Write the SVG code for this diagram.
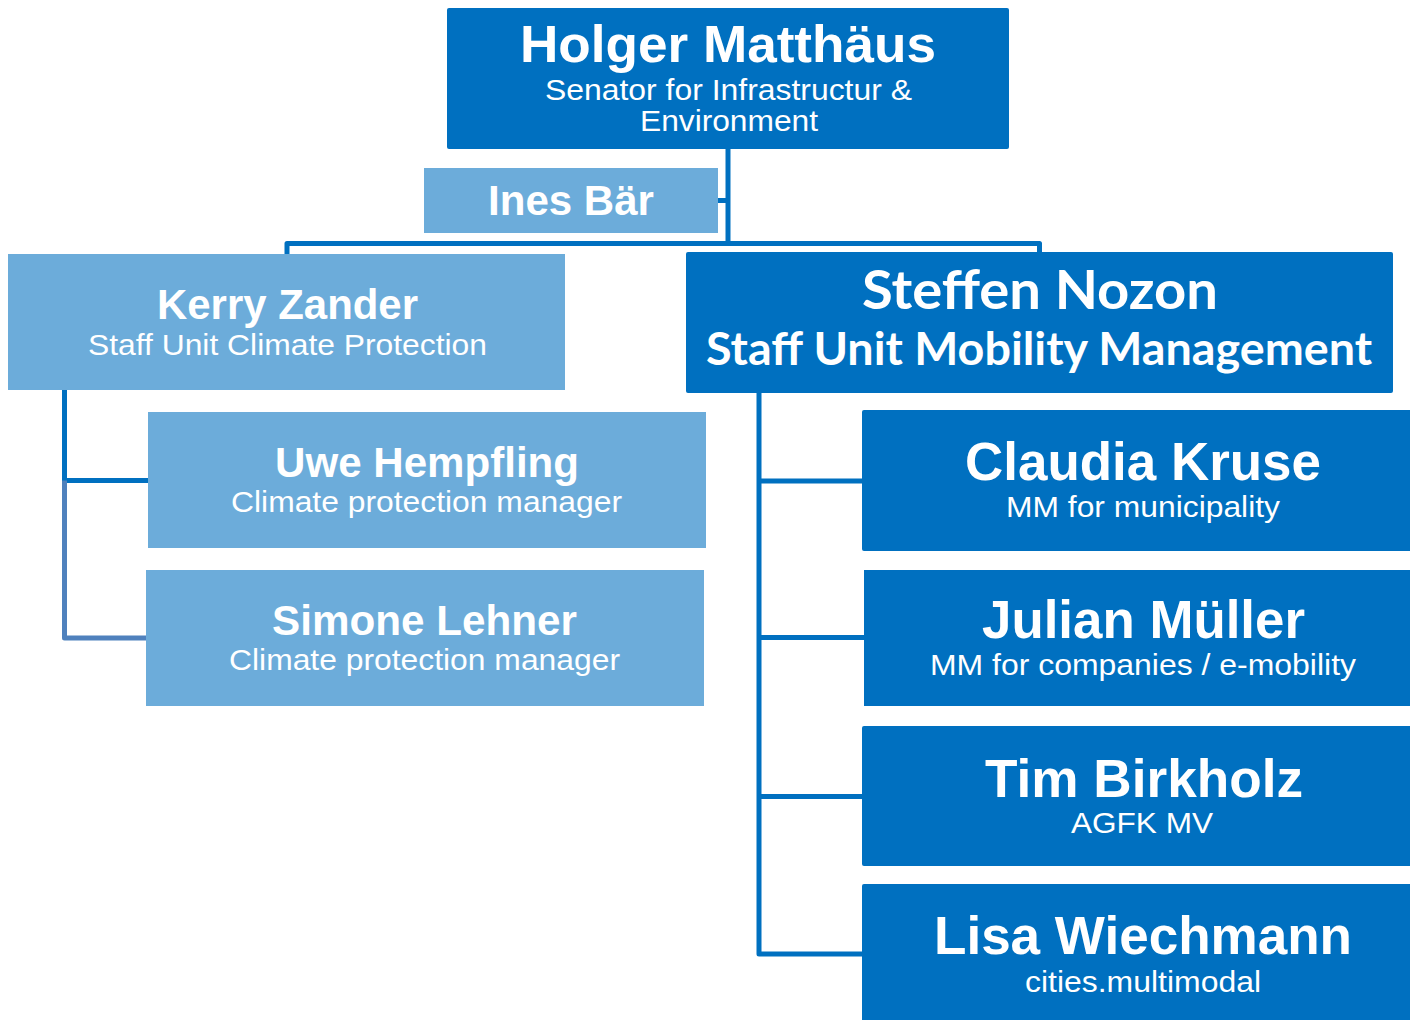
<svg xmlns="http://www.w3.org/2000/svg" width="1410" height="1020" viewBox="0 0 1410 1020">
<style>
.dark{fill:#0070C0}
.light{fill:#6CACDA}
.t{font-family:"Liberation Sans",Arial,sans-serif;fill:#ffffff;text-anchor:middle}
.b{font-weight:bold}
.cal{font-family:Lato,"Open Sans","Liberation Sans",sans-serif;font-weight:bold;fill:#ffffff;text-anchor:middle}
.c{fill:none;stroke:#0070C0;stroke-width:5;stroke-linejoin:round}
.c2{fill:none;stroke:#4F81BD;stroke-width:5;stroke-linejoin:round}
</style>
<rect width="1410" height="1020" fill="#ffffff"/>
<g id="connectors">
<path class="c" d="M728 149 V243.5"/>
<path class="c" d="M718 200.5 H728"/>
<path class="c" d="M287 254 V243.5 H1039.5 V252"/>
<path class="c" d="M64.5 390 V480.5 H148"/>
<path class="c2" d="M64.5 480.5 V638 H146"/>
<path class="c" d="M759 393 V954 H862"/>
<path class="c" d="M759 481 H862"/>
<path class="c" d="M759 637.5 H864"/>
<path class="c" d="M759 796.5 H862"/>
</g>
<g id="holger">
<rect class="dark" x="447" y="8" width="562" height="141" rx="2"/>
<text class="t b" x="728" y="62" font-size="52" textLength="416" lengthAdjust="spacingAndGlyphs">Holger Matthäus</text>
<text class="t" x="728.5" y="100" font-size="29" textLength="367" lengthAdjust="spacingAndGlyphs">Senator for Infrastructur &amp;</text>
<text class="t" x="729" y="131" font-size="29" textLength="178" lengthAdjust="spacingAndGlyphs">Environment</text>
</g>
<g id="ines">
<rect class="light" x="424" y="168" width="294" height="65"/>
<text class="t b" x="571" y="215" font-size="42" textLength="166" lengthAdjust="spacingAndGlyphs">Ines Bär</text>
</g>
<g id="kerry">
<rect class="light" x="8" y="254" width="557" height="136"/>
<text class="t b" x="287.5" y="319" font-size="42" textLength="261" lengthAdjust="spacingAndGlyphs">Kerry Zander</text>
<text class="t" x="287.5" y="355" font-size="30" textLength="399" lengthAdjust="spacingAndGlyphs">Staff Unit Climate Protection</text>
</g>
<g id="steffen">
<rect class="dark" x="686" y="252" width="707" height="141" rx="2"/>
<text class="cal" x="1040" y="309" font-size="54" textLength="356" lengthAdjust="spacingAndGlyphs">Steffen Nozon</text>
<text class="cal" x="1039" y="365" font-size="45" textLength="666" lengthAdjust="spacingAndGlyphs">Staff Unit Mobility Management</text>
</g>
<g id="uwe">
<rect class="light" x="148" y="412" width="558" height="136"/>
<text class="t b" x="427" y="477" font-size="42" textLength="304" lengthAdjust="spacingAndGlyphs">Uwe Hempfling</text>
<text class="t" x="426.5" y="512" font-size="30" textLength="391" lengthAdjust="spacingAndGlyphs">Climate protection manager</text>
</g>
<g id="simone">
<rect class="light" x="146" y="570" width="558" height="136"/>
<text class="t b" x="424.5" y="635" font-size="42" textLength="305" lengthAdjust="spacingAndGlyphs">Simone Lehner</text>
<text class="t" x="424.5" y="670" font-size="30" textLength="391" lengthAdjust="spacingAndGlyphs">Climate protection manager</text>
</g>
<g id="claudia">
<rect class="dark" x="862" y="410" width="550" height="141" rx="2"/>
<text class="t b" x="1143" y="480" font-size="53" textLength="356" lengthAdjust="spacingAndGlyphs">Claudia Kruse</text>
<text class="t" x="1143" y="517" font-size="29" textLength="274" lengthAdjust="spacingAndGlyphs">MM for municipality</text>
</g>
<g id="julian">
<rect class="dark" x="864" y="570" width="548" height="136"/>
<text class="t b" x="1143.5" y="638" font-size="53" textLength="323" lengthAdjust="spacingAndGlyphs">Julian Müller</text>
<text class="t" x="1143" y="675" font-size="29" textLength="426" lengthAdjust="spacingAndGlyphs">MM for companies / e-mobility</text>
</g>
<g id="tim">
<rect class="dark" x="862" y="726" width="550" height="140" rx="2"/>
<text class="t b" x="1144" y="797" font-size="53" textLength="318" lengthAdjust="spacingAndGlyphs">Tim Birkholz</text>
<text class="t" x="1142" y="833" font-size="29" textLength="142" lengthAdjust="spacingAndGlyphs">AGFK MV</text>
</g>
<g id="lisa">
<rect class="dark" x="862" y="884" width="550" height="140" rx="2"/>
<text class="t b" x="1143" y="954" font-size="53" textLength="418" lengthAdjust="spacingAndGlyphs">Lisa Wiechmann</text>
<text class="t" x="1143" y="992" font-size="29" textLength="236" lengthAdjust="spacingAndGlyphs">cities.multimodal</text>
</g>
</svg>
